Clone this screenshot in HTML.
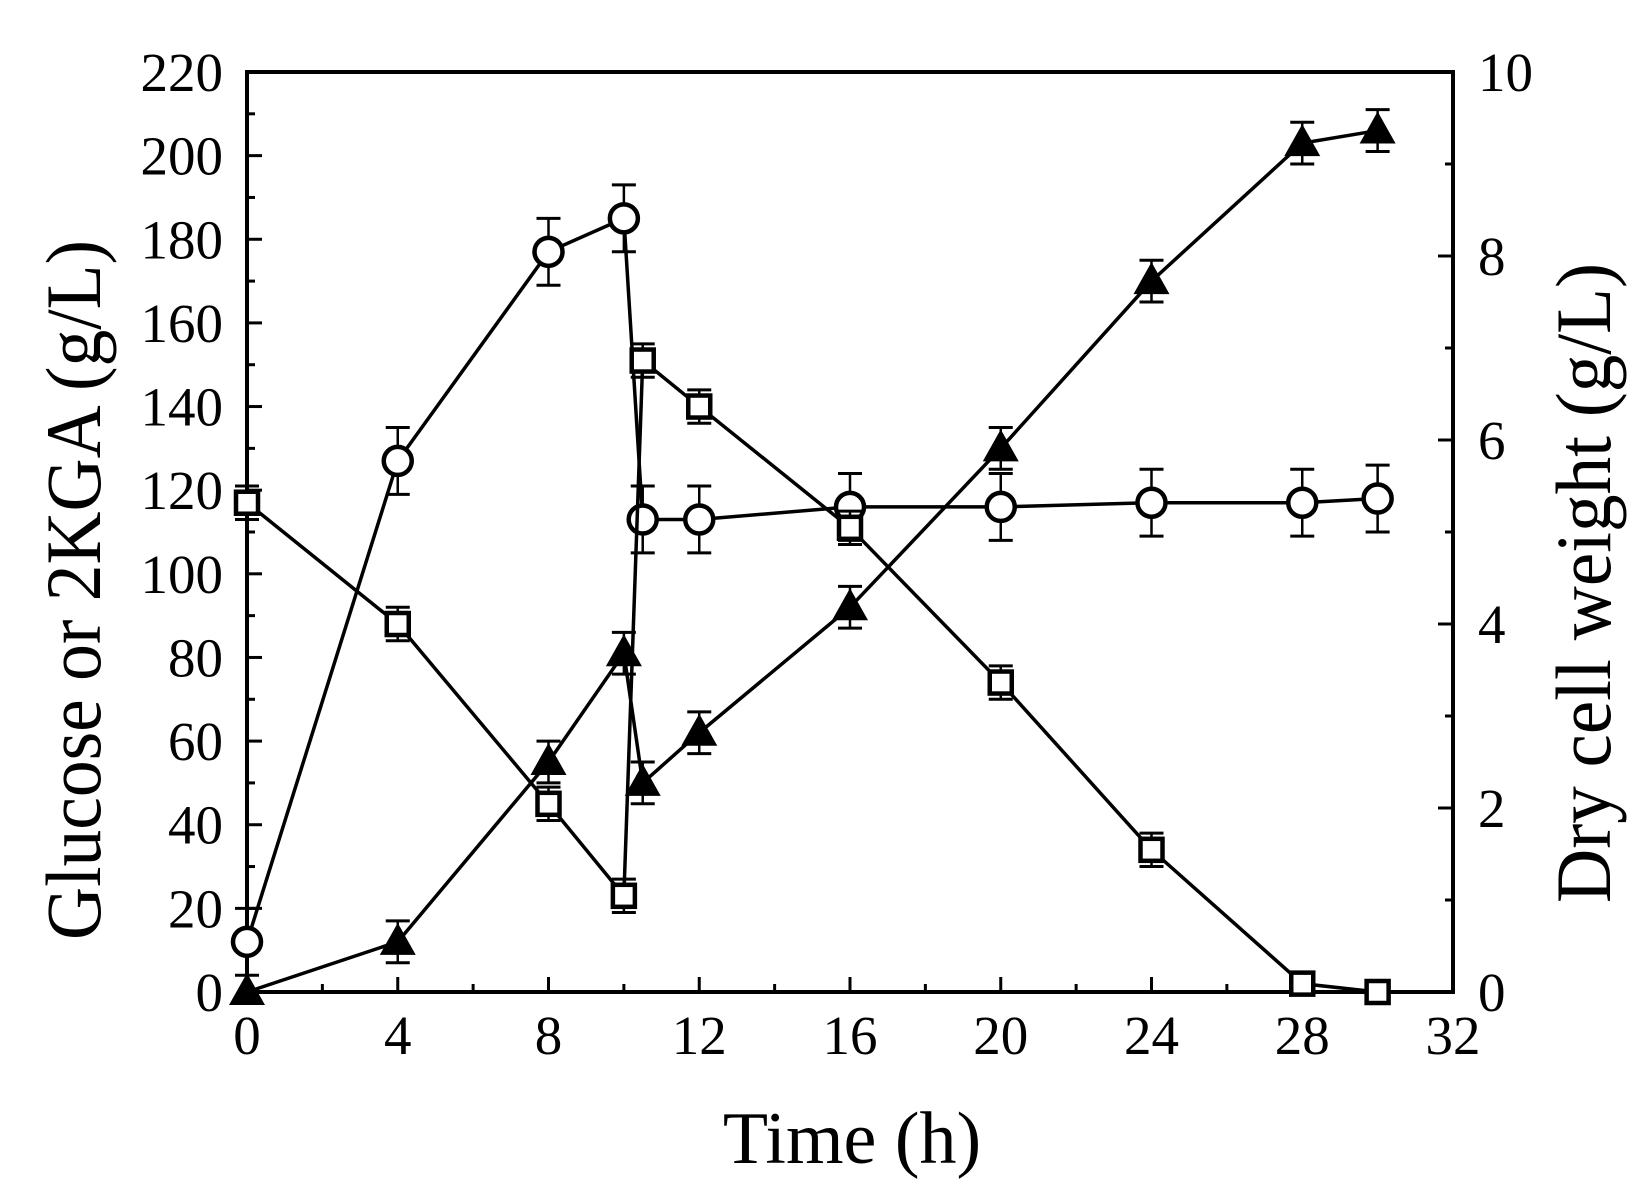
<!DOCTYPE html>
<html><head><meta charset="utf-8"><style>
html,body{margin:0;padding:0;background:#fff;}
svg{display:block;font-family:"Liberation Serif",serif;}
</style></head><body>
<svg id="c" width="1648" height="1203" viewBox="0 0 1648 1203" xmlns="http://www.w3.org/2000/svg">
<rect width="1648" height="1203" fill="#fff"/>
<g id="plot"></g>
<text x="852" y="1163" font-size="74" text-anchor="middle">Time (h)</text>
<text transform="translate(100,590) rotate(-90)" font-size="78" text-anchor="middle" textLength="700" lengthAdjust="spacingAndGlyphs">Glucose or 2KGA (g/L)</text>
<text transform="translate(1610,583) rotate(-90)" font-size="78" text-anchor="middle" textLength="640" lengthAdjust="spacingAndGlyphs">Dry cell weight (g/L)</text>
</svg>
<script>
const NS="http://www.w3.org/2000/svg",g=document.getElementById('plot');
const X0=247,X1=1453,Y0=992,Y1=72;
const sx=t=>X0+(X1-X0)*t/32, sy=v=>Y0+(Y1-Y0)*v/220;
function el(n,a,p){const e=document.createElementNS(NS,n);for(const k in a)e.setAttribute(k,a[k]);(p||g).appendChild(e);return e;}
function line(x1,y1,x2,y2,w){el('line',{x1,y1,x2,y2,stroke:'#000','stroke-width':w||3});}
el('rect',{x:X0,y:Y1,width:X1-X0,height:Y0-Y1,fill:'none',stroke:'#000','stroke-width':4});
for(let v=0;v<=220;v+=10){const y=sy(v);line(X0,y,X0+(v%20?8:15),y,3);
 if(v%20==0){const t=el('text',{x:223,y:y+19,'font-size':55,'text-anchor':'end'});t.textContent=v;}}
for(let h=0;h<=32;h+=2){const x=sx(h);line(x,Y0,x,Y0-(h%4?8:15),3);
 if(h%4==0){const t=el('text',{x:x,y:1054,'font-size':55,'text-anchor':'middle'});t.textContent=h;}}
for(let d=0;d<=10;d++){const y=Y0+(Y1-Y0)*d/10;line(X1,y,X1-(d%2?8:15),y,3);
 if(d%2==0){const t=el('text',{x:1478,y:y+19,'font-size':55,'text-anchor':'start'});t.textContent=d;}}
const T=[0,4,8,10,10.5,12,16,20,24,28,30];
const circ=[12,127,177,185,113,113,116,116,117,117,118];
const sq=[117,88,45,23,151,140,111,74,34,2,0];
const tri=[0,12,55,81,50,62,92,130,170,203,206];
function series(vals,e,draw){
 const pts=T.map((t,i)=>[sx(t),sy(vals[i])]);
 el('polyline',{points:pts.map(p=>p.join(',')).join(' '),fill:'none',stroke:'#000','stroke-width':3.5});
 pts.forEach((p,i)=>{if(vals[i]>3){const d=e*4.18;line(p[0],p[1]-d,p[0],p[1]+d,2.5);line(p[0]-12,p[1]-d,p[0]+12,p[1]-d,3);line(p[0]-12,p[1]+d,p[0]+12,p[1]+d,3);}draw(p[0],p[1]);});
}
series(circ,8,(x,y)=>el('circle',{cx:x,cy:y,r:14,fill:'#fff',stroke:'#000','stroke-width':4.5}));
series(sq,4,(x,y)=>el('rect',{x:x-11,y:y-11,width:22,height:22,fill:'#fff',stroke:'#000','stroke-width':4.5}));
series(tri,5,(x,y)=>el('polygon',{points:`${x},${y-19} ${x-18},${y+13} ${x+18},${y+13}`,fill:'#000'}));
</script>
</body></html>
